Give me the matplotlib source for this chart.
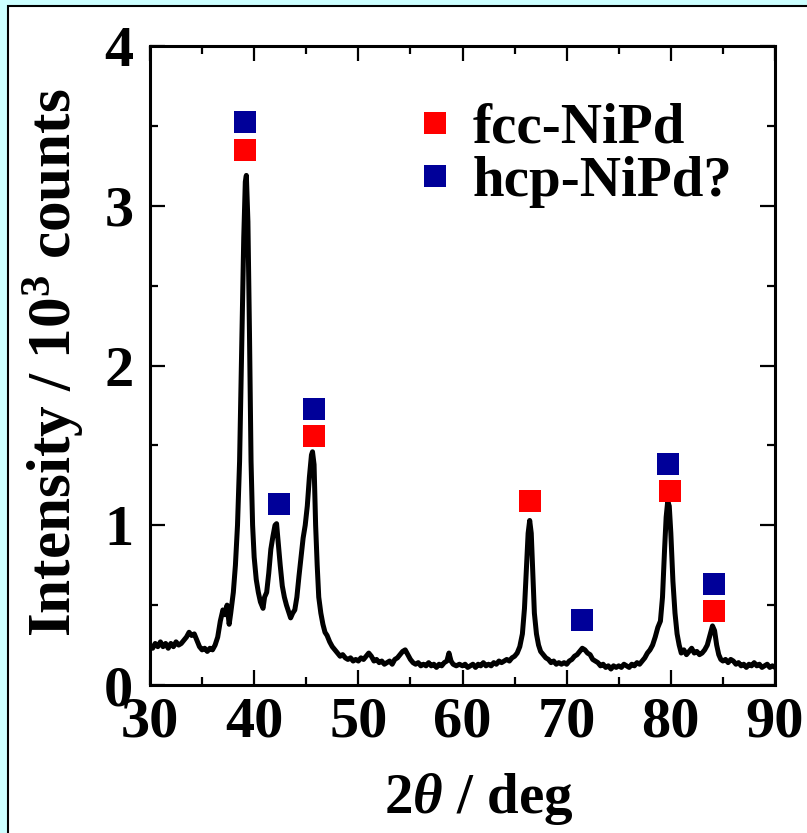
import matplotlib
matplotlib.use('Agg')
import matplotlib.pyplot as plt
from matplotlib.patches import Rectangle
from matplotlib.ticker import MultipleLocator

two_theta = [
    30.0, 30.25, 30.5, 30.75, 31.0, 31.25, 31.5, 31.75, 32.0, 32.25, 32.5, 32.75,
    33.0, 33.25, 33.5, 33.75, 34.0, 34.25, 34.5, 34.75, 35.0, 35.25, 35.5, 35.75,
    36.0, 36.25, 36.5, 36.75, 37.0, 37.2, 37.4, 37.6, 37.75, 38.0, 38.2, 38.4,
    38.6, 38.8, 39.0, 39.15, 39.25, 39.4, 39.55, 39.7, 39.85, 40.0, 40.2, 40.4,
    40.6, 40.85, 41.0, 41.2, 41.4, 41.6, 41.8, 42.0, 42.15, 42.3, 42.5, 42.7,
    42.9, 43.1, 43.3, 43.5, 43.7, 43.9, 44.1, 44.3, 44.5, 44.7, 44.9, 45.1,
    45.3, 45.5, 45.6, 45.75, 45.9, 46.05, 46.2, 46.4, 46.6, 46.8, 47.0, 47.25,
    47.5, 47.75, 48.0, 48.25, 48.5, 48.75, 49.0, 49.25, 49.5, 49.75, 50.0, 50.25,
    50.5, 50.75, 51.0, 51.25, 51.5, 51.75, 52.0, 52.25, 52.5, 52.75, 53.0, 53.25,
    53.5, 53.75, 54.0, 54.25, 54.5, 54.75, 55.0, 55.25, 55.5, 55.75, 56.0, 56.25,
    56.5, 56.75, 57.0, 57.25, 57.5, 57.75, 58.0, 58.25, 58.5, 58.7, 58.9, 59.1,
    59.4, 59.7, 60.0, 60.25, 60.5, 60.75, 61.0, 61.25, 61.5, 61.75, 62.0, 62.25,
    62.5, 62.75, 63.0, 63.25, 63.5, 63.75, 64.0, 64.25, 64.5, 64.75, 65.0, 65.25,
    65.5, 65.75, 65.95, 66.15, 66.3, 66.45, 66.6, 66.75, 66.9, 67.1, 67.3, 67.5,
    67.75, 68.0, 68.25, 68.5, 68.75, 69.0, 69.25, 69.5, 69.75, 70.0, 70.25, 70.5,
    70.75, 71.0, 71.25, 71.5, 71.75, 72.0, 72.25, 72.5, 72.75, 73.0, 73.25, 73.5,
    73.75, 74.0, 74.25, 74.5, 74.75, 75.0, 75.25, 75.5, 75.75, 76.0, 76.25, 76.5,
    76.75, 77.0, 77.25, 77.5, 77.75, 78.0, 78.25, 78.5, 78.75, 79.0, 79.2, 79.4,
    79.55, 79.7, 79.85, 80.0, 80.2, 80.4, 80.6, 80.8, 81.0, 81.25, 81.5, 81.75,
    82.0, 82.25, 82.5, 82.75, 83.0, 83.25, 83.5, 83.75, 84.0, 84.2, 84.4, 84.6,
    84.8, 85.0, 85.25, 85.5, 85.75, 86.0, 86.25, 86.5, 86.75, 87.0, 87.25, 87.5,
    87.75, 88.0, 88.25, 88.5, 88.75, 89.0, 89.25, 89.5, 89.75, 90.0,
]
intensity = [
    0.25, 0.23, 0.26, 0.24, 0.27, 0.24, 0.26, 0.23, 0.26, 0.24, 0.27, 0.25,
    0.26, 0.28, 0.30, 0.33, 0.31, 0.32, 0.28, 0.24, 0.22, 0.23, 0.21, 0.23,
    0.22, 0.25, 0.30, 0.40, 0.47, 0.44, 0.50, 0.38, 0.45, 0.58, 0.75, 1.00,
    1.40, 2.10, 2.80, 3.15, 3.19, 2.90, 2.20, 1.40, 1.00, 0.80, 0.66, 0.58,
    0.52, 0.48, 0.55, 0.58, 0.70, 0.85, 0.93, 1.00, 1.01, 0.90, 0.75, 0.62,
    0.55, 0.50, 0.46, 0.42, 0.45, 0.47, 0.55, 0.68, 0.80, 0.92, 1.00, 1.12,
    1.30, 1.44, 1.46, 1.38, 1.00, 0.75, 0.55, 0.45, 0.38, 0.33, 0.31, 0.27,
    0.24, 0.22, 0.20, 0.18, 0.19, 0.17, 0.16, 0.17, 0.15, 0.16, 0.15, 0.17,
    0.16, 0.18, 0.20, 0.18, 0.15, 0.16, 0.14, 0.15, 0.13, 0.14, 0.15, 0.13,
    0.16, 0.17, 0.19, 0.21, 0.22, 0.19, 0.16, 0.14, 0.13, 0.14, 0.12, 0.13,
    0.12, 0.14, 0.12, 0.13, 0.11, 0.13, 0.12, 0.14, 0.15, 0.20, 0.15, 0.13,
    0.12, 0.13, 0.12, 0.13, 0.11, 0.12, 0.13, 0.11, 0.13, 0.12, 0.14, 0.12,
    0.13, 0.12, 0.14, 0.13, 0.15, 0.14, 0.15, 0.16, 0.15, 0.17, 0.18, 0.20,
    0.24, 0.32, 0.48, 0.75, 0.95, 1.03, 0.95, 0.70, 0.45, 0.32, 0.25, 0.21,
    0.19, 0.17, 0.16, 0.14, 0.15, 0.13, 0.14, 0.13, 0.14, 0.13, 0.15, 0.16,
    0.18, 0.19, 0.21, 0.23, 0.22, 0.20, 0.19, 0.16, 0.15, 0.14, 0.12, 0.13,
    0.11, 0.12, 0.10, 0.12, 0.11, 0.12, 0.11, 0.13, 0.12, 0.11, 0.13, 0.12,
    0.14, 0.13, 0.15, 0.17, 0.20, 0.22, 0.25, 0.30, 0.36, 0.40, 0.55, 0.85,
    1.05, 1.15, 1.12, 0.95, 0.65, 0.45, 0.32, 0.25, 0.20, 0.22, 0.19, 0.21,
    0.23, 0.20, 0.21, 0.19, 0.20, 0.22, 0.25, 0.31, 0.37, 0.34, 0.25, 0.19,
    0.16, 0.15, 0.16, 0.14, 0.16, 0.15, 0.13, 0.14, 0.12, 0.13, 0.11, 0.13,
    0.12, 0.14, 0.12, 0.13, 0.11, 0.12, 0.13, 0.11, 0.12, 0.11,
]

# Peak-Markierungen
fcc_x = [39.1, 45.7, 66.5, 79.9, 84.1]
fcc_y = [3.35, 1.56, 1.15, 1.215, 0.465]
hcp_x = [39.1, 42.4, 45.7, 71.5, 79.75, 84.1]
hcp_y = [3.525, 1.13, 1.73, 0.41, 1.385, 0.635]

plt.rcParams['font.family'] = 'Liberation Serif'
plt.rcParams['font.weight'] = 'bold'
plt.rcParams['mathtext.fontset'] = 'custom'
plt.rcParams['mathtext.rm'] = 'Liberation Serif:bold'
plt.rcParams['mathtext.it'] = 'Liberation Serif:italic:bold'
plt.rcParams['mathtext.bf'] = 'Liberation Serif:bold'

fig = plt.figure(figsize=(8.07, 8.33), dpi=100)
fig.patch.set_facecolor('#CCFFFF')
frame = Rectangle((8 / 807, -0.05), 1.0, 1.05 - 6 / 833, transform=fig.transFigure,
                  facecolor='white', edgecolor='black', lw=1.5, zorder=-10)
fig.patches.append(frame)

ax = fig.add_axes([150 / 807, 1 - 685 / 833, 625 / 807, 639 / 833])
ax.set_facecolor('white')

ax.plot(two_theta, intensity, color='black', lw=3.6)
ax.plot(fcc_x, fcc_y, 's', color='#FF0000', ms=16, mew=0, ls='none', label='fcc-NiPd')
ax.plot(hcp_x, hcp_y, 's', color='#000099', ms=16, mew=0, ls='none', label='hcp-NiPd?')

ax.set_xlim(30, 90)
ax.set_ylim(0, 4)
ax.xaxis.set_major_locator(MultipleLocator(10))
ax.xaxis.set_minor_locator(MultipleLocator(5))
ax.yaxis.set_major_locator(MultipleLocator(1))
ax.yaxis.set_minor_locator(MultipleLocator(0.5))

ax.tick_params(which='both', direction='in', top=True, right=True, width=1.6)
ax.tick_params(which='major', length=11)
ax.tick_params(which='minor', length=6)
ax.tick_params(axis='x', labelsize=42, pad=8)
ax.tick_params(axis='y', labelsize=42, pad=12)
for sp in ax.spines.values():
    sp.set_linewidth(2.2)

ax.set_xlabel(r'2$\mathit{\theta}$ / deg', fontsize=41, fontweight='bold')
ax.xaxis.set_label_coords(0.526, -0.134)
ax.set_ylabel(r'Intensity / 10$^{3}$ counts', fontsize=44, fontweight='bold')
ax.yaxis.set_label_coords(-0.103, 0.505)

ax.legend(loc='upper left', bbox_to_anchor=(0.424, 0.911), frameon=False, fontsize=41,
          handlelength=0.7, handletextpad=0.32, labelspacing=0.02, borderpad=0,
          borderaxespad=0, numpoints=1)

plt.savefig('out.png', dpi=100)
